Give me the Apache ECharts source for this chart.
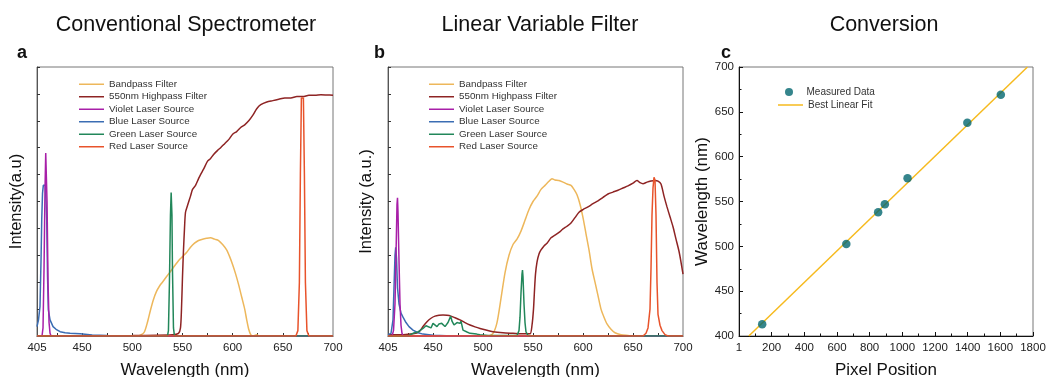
<!DOCTYPE html>
<html>
<head>
<meta charset="utf-8">
<script src="https://cdn.jsdelivr.net/npm/echarts@6/dist/echarts.min.js"></script>
<style>html,body{margin:0;padding:0;background:#fff}#c{width:1047px;height:377px}</style>
</head>
<body>
<div id="c"></div>
<script>
// ---------- DATA ----------
const seriesNames = ['Bandpass Filter','550nm Highpass Filter','Violet Laser Source','Blue Laser Source','Green Laser Source','Red Laser Source'];
const wlTickLabels = [405,450,500,550,600,650,700];
const wlTicks = [425,450,475,500,525,550,575,600,625,650,675];

// Panel a: Conventional Spectrometer (intensity in tick units 0..10)
const aBandpass = [[405,0],[505,0],[509,0.05],[512,0.15],[515,0.5],[518,0.95],[521,1.35],[524,1.65],[527,1.85],[530,2.0],[534,2.2],[538,2.4],[542,2.6],[546,2.8],[550,2.95],[554,3.1],[558,3.3],[562,3.45],[566,3.55],[570,3.6],[574,3.63],[578,3.65],[582,3.6],[586,3.55],[590,3.4],[594,3.2],[597,2.95],[600,2.65],[603,2.3],[606,1.9],[609,1.45],[612,1.0],[614,0.6],[616,0.25],[618,0.05],[620,0],[624,0.05],[626,0],[700,0]];
const aHighpass = [[405,0],[500,0.02],[540,0.05],[546,0.1],[548,0.3],[549,1.0],[550,2.2],[551,3.2],[552,4.0],[553,4.6],[555,4.85],[558,5.2],[560,5.45],[563,5.6],[566,5.85],[568,6.0],[571,6.2],[575,6.5],[578,6.6],[581,6.75],[585,6.9],[588,7.0],[592,7.15],[596,7.3],[600,7.5],[604,7.6],[608,7.75],[612,7.85],[616,8.0],[620,8.2],[624,8.45],[628,8.6],[634,8.7],[640,8.75],[646,8.8],[652,8.85],[658,8.85],[664,8.9],[670,8.9],[676,8.95],[682,8.95],[688,8.97],[694,8.96],[700,8.95]];
const aViolet = [[405,0],[410,0],[411,0.3],[412,2.5],[413,5.5],[413.7,6.8],[414.3,6.8],[415,5.0],[416,2.0],[417,0.5],[418,0.1],[419,0],[700,0]];
const aBlue = [[405,0.35],[406.5,0.6],[408,1.1],[409,2.8],[409.7,4.3],[410.5,5.3],[411.3,5.6],[413.3,5.6],[414,5.0],[414.7,4.3],[415.5,2.2],[416.3,0.97],[418,0.6],[421,0.35],[424,0.25],[428,0.16],[433,0.12],[438,0.1],[448,0.08],[460,0.04],[475,0.02],[500,0.01],[520,0],[700,0]];
const aGreen = [[405,0],[535,0],[536,0.2],[537,2.0],[538,4.5],[538.7,5.33],[539.5,4.5],[540,2.5],[541,0.3],[542,0],[700,0]];
const aRed = [[405,0],[663,0],[665,0.2],[666.5,2.0],[667.5,6.0],[668.5,8.85],[670.5,8.85],[671.5,6.0],[672.5,2.0],[674,0.2],[676,0],[700,0]];

// Panel b: Linear Variable Filter
const bBandpass = [[405,0],[505,0],[510,0.1],[514,0.5],[518,1.4],[522,2.35],[526,3.0],[530,3.4],[534,3.6],[538,3.9],[542,4.3],[546,4.7],[550,5.0],[554,5.2],[558,5.45],[562,5.6],[566,5.75],[569,5.85],[572,5.8],[576,5.78],[580,5.72],[584,5.65],[588,5.6],[591,5.45],[594,5.25],[597,4.9],[600,4.4],[603,3.8],[606,3.2],[609,2.5],[612,2.0],[615,1.5],[618,1.0],[621,0.7],[624,0.45],[628,0.25],[632,0.12],[638,0.05],[645,0.02],[650,0],[700,0]];
const bHighpass = [[405,0.05],[420,0.05],[430,0.08],[436,0.15],[440,0.35],[444,0.53],[448,0.66],[452,0.74],[456,0.77],[460,0.78],[464,0.77],[468,0.74],[472,0.68],[477,0.6],[482,0.5],[487,0.41],[492,0.34],[497,0.28],[503,0.22],[510,0.16],[520,0.12],[530,0.1],[540,0.08],[547,0.08],[549,0.4],[550.5,1.0],[551.5,1.7],[552.5,2.3],[554,2.75],[556,3.05],[558,3.2],[561,3.35],[564,3.45],[568,3.65],[572,3.75],[576,3.85],[580,3.98],[584,4.08],[588,4.2],[592,4.4],[596,4.6],[600,4.7],[605,4.8],[610,4.92],[615,5.02],[620,5.15],[625,5.28],[630,5.35],[635,5.42],[640,5.5],[645,5.58],[650,5.68],[654,5.78],[657,5.7],[660,5.66],[664,5.72],[668,5.76],[672,5.78],[675,5.76],[678,5.65],[681,5.2],[684,4.8],[687,4.43],[690,4.06],[693,3.6],[696,3.15],[698,2.75],[700,2.3]];
const bViolet = [[405,0],[409,0],[410.5,0.2],[412,1.2],[413,3.0],[414,4.9],[414.5,5.14],[415,4.6],[416,2.8],[417,1.2],[418,0.4],[419,0.1],[420,0],[700,0]];
const bBlue = [[405,0.05],[408,0.1],[410,0.6],[411,1.8],[412,3.0],[412.7,3.3],[413.5,2.9],[414.5,1.8],[416,1.2],[418,0.85],[420,0.7],[423,0.5],[426,0.35],[430,0.22],[435,0.12],[440,0.07],[450,0.03],[470,0],[700,0]];
const bGreen = [[405,0],[425,0],[430,0.1],[435,0.15],[440,0.28],[443,0.38],[445,0.41],[448,0.3],[450,0.47],[452,0.42],[454,0.35],[456,0.45],[458.7,0.47],[460,0.4],[462,0.35],[465,0.5],[467.7,0.74],[469,0.55],[471,0.41],[474,0.5],[477,0.47],[478,0.55],[480,0.22],[484,0.15],[487,0.1],[493.7,0.07],[497,0.05],[505,0.02],[534,0.02],[536,0.2],[537,0.7],[538,1.6],[539,2.3],[539.5,2.45],[540,2.2],[541,1.2],[542,0.5],[543,0.15],[545,0.02],[550,0],[700,0]];
const bRed = [[405,0],[660,0],[663,0.1],[665,0.3],[667,1.0],[668,2.5],[669,4.5],[670,5.5],[671,5.9],[672,5.8],[673,4.5],[674,2.0],[675,0.8],[677,0.4],[679,0.2],[682,0.05],[685,0],[700,0]];

// Panel c: Conversion
const pixelPos = [142, 657, 852, 893, 1032, 1398, 1603];
const measuredWl = [413, 502.6, 538, 546.8, 575.8, 637.8, 669];
const fitLine = [[60,400],[1766,700]];
const pixelTickMax = 1800;

// ---------- STYLE ----------
const FONT = 'Liberation Sans, Arial, Helvetica, sans-serif';
const colors = {
  'Bandpass Filter':'#EDB75B',
  '550nm Highpass Filter':'#8E2424',
  'Violet Laser Source':'#A81FA8',
  'Blue Laser Source':'#3B6DB3',
  'Green Laser Source':'#22875A',
  'Red Laser Source':'#E8532B'
};

const chart = echarts.init(document.getElementById('c'), null, {renderer:'canvas'});

function grid(left, right){
  return {left:left, right:right, top:67, bottom:41, show:true, borderColor:'#777', borderWidth:1,
    backgroundColor:'transparent', containLabel:false, outerBoundsMode:'none'};
}
function wlAxis(gi){
  return {type:'value', gridIndex:gi, min:405, max:700,
    name:'Wavelength (nm)', nameLocation:'middle', nameGap:26,
    nameTextStyle:{fontFamily:FONT, fontSize:17, color:'#111'},
    axisLine:{show:true, lineStyle:{color:'#333', width:1}},
    axisTick:{show:true, inside:true, length:3, customValues:wlTicks, lineStyle:{color:'#333'}},
    axisLabel:{show:true, customValues:wlTickLabels, margin:6, fontFamily:FONT, fontSize:11.5, color:'#222'},
    splitLine:{show:false}};
}
function intAxis(gi, name, gap){
  return {type:'value', gridIndex:gi, min:0, max:10, interval:1,
    name:name, nameLocation:'middle', nameGap:gap,
    nameTextStyle:{fontFamily:FONT, fontSize:16.5, color:'#111'},
    axisLine:{show:true, lineStyle:{color:'#555', width:1}},
    axisTick:{show:true, inside:true, length:3, lineStyle:{color:'#333'}},
    axisLabel:{show:false}, splitLine:{show:false}};
}
function lineSeries(name, data, xi, smooth){
  return {type:'line', name:name, xAxisIndex:xi, yAxisIndex:xi, data:data,
    showSymbol:false, symbol:'none', smooth:smooth ? 0.25 : false,
    lineStyle:{color:colors[name], width:1.5}, itemStyle:{color:colors[name]},
    emphasis:{disabled:true}, silent:true, animation:false};
}
const legendCommon = {orient:'vertical', icon:'rect', itemWidth:25, itemHeight:1.5, itemGap:0,
  textStyle:{fontFamily:FONT, fontSize:9.8, lineHeight:12.5, color:'#333'}, selectedMode:false, data:seriesNames};

const option = {
  animation:false,
  backgroundColor:'#fff',
  title:[
    {text:'Conventional Spectrometer', left:181, top:9, textAlign:'center', textStyle:{fontFamily:FONT, fontSize:21.5, fontWeight:'normal', color:'#111'}},
    {text:'Linear Variable Filter', left:535, top:9, textAlign:'center', textStyle:{fontFamily:FONT, fontSize:21.5, fontWeight:'normal', color:'#111'}},
    {text:'Conversion', left:879, top:9, textAlign:'center', textStyle:{fontFamily:FONT, fontSize:21.5, fontWeight:'normal', color:'#111'}}
  ],
  graphic:[
    {type:'text', left:17, top:44, style:{text:'a', font:'bold 18px '+FONT, fill:'#111'}},
    {type:'text', left:374, top:44, style:{text:'b', font:'bold 18px '+FONT, fill:'#111'}},
    {type:'text', left:721, top:44, style:{text:'c', font:'bold 18px '+FONT, fill:'#111'}}
  ],
  legend:[
    Object.assign({}, legendCommon, {left:74, top:73}),
    Object.assign({}, legendCommon, {left:424, top:73}),
    {orient:'vertical', icon:'circle', itemWidth:25, itemHeight:8, left:780, top:80.5, selectedMode:false,
      textStyle:{fontFamily:FONT, fontSize:10, lineHeight:13, color:'#333'}, data:['Measured Data']},
    {orient:'vertical', icon:'rect', itemWidth:25, itemHeight:1.5, left:773, top:93.5, selectedMode:false,
      textStyle:{fontFamily:FONT, fontSize:10, lineHeight:13, color:'#333'}, data:['Best Linear Fit']}
  ],
  grid:[grid(37,714), grid(388,364), grid(739,14)],
  xAxis:[
    wlAxis(0), wlAxis(1),
    {type:'value', gridIndex:2, min:0, max:pixelTickMax, interval:200,
      name:'Pixel Position', nameLocation:'middle', nameGap:26,
      nameTextStyle:{fontFamily:FONT, fontSize:17, color:'#111'},
      axisLine:{show:true, lineStyle:{color:'#111'}},
      axisTick:{show:true, inside:true, length:4, lineStyle:{color:'#111'}},
      minorTick:{show:true, splitNumber:2, length:2.5, lineStyle:{color:'#111'}},
      axisLabel:{margin:6, fontFamily:FONT, fontSize:11.5, color:'#222', formatter:function(v){return v===0?'1':String(v);}},
      splitLine:{show:false}}
  ],
  yAxis:[
    intAxis(0,'Intensity(a.u)',12), intAxis(1,'Intensity (a.u.)',13),
    {type:'value', gridIndex:2, min:400, max:700, interval:50,
      name:'Wavelength (nm)', nameLocation:'middle', nameGap:22,
      nameTextStyle:{fontFamily:FONT, fontSize:17, color:'#111'},
      axisLine:{show:true, lineStyle:{color:'#111'}},
      axisTick:{show:true, inside:true, length:4, lineStyle:{color:'#111'}},
      minorTick:{show:true, splitNumber:2, length:2.5, lineStyle:{color:'#111'}},
      axisLabel:{margin:5, fontFamily:FONT, fontSize:11.5, color:'#222'},
      splitLine:{show:false}}
  ],
  series:[
    lineSeries('Bandpass Filter', aBandpass, 0, true),
    lineSeries('550nm Highpass Filter', aHighpass, 0, true),
    lineSeries('Blue Laser Source', aBlue, 0, false),
    lineSeries('Violet Laser Source', aViolet, 0, false),
    lineSeries('Green Laser Source', aGreen, 0, false),
    lineSeries('Red Laser Source', aRed, 0, false),
    lineSeries('Bandpass Filter', bBandpass, 1, true),
    lineSeries('550nm Highpass Filter', bHighpass, 1, true),
    lineSeries('Blue Laser Source', bBlue, 1, false),
    lineSeries('Violet Laser Source', bViolet, 1, false),
    lineSeries('Green Laser Source', bGreen, 1, false),
    lineSeries('Red Laser Source', bRed, 1, false),
    {type:'line', name:'Best Linear Fit', xAxisIndex:2, yAxisIndex:2, data:fitLine, showSymbol:false, symbol:'none',
      lineStyle:{color:'#F6BA1E', width:1.5}, itemStyle:{color:'#F6BA1E'}, silent:true, z:2},
    {type:'scatter', name:'Measured Data', xAxisIndex:2, yAxisIndex:2,
      data:pixelPos.map(function(p,i){return [p, measuredWl[i]];}),
      symbol:'circle', symbolSize:8.5, itemStyle:{color:'#03666F'}, silent:true, z:3}
  ]
};
chart.setOption(option);
</script>
</body>
</html>
